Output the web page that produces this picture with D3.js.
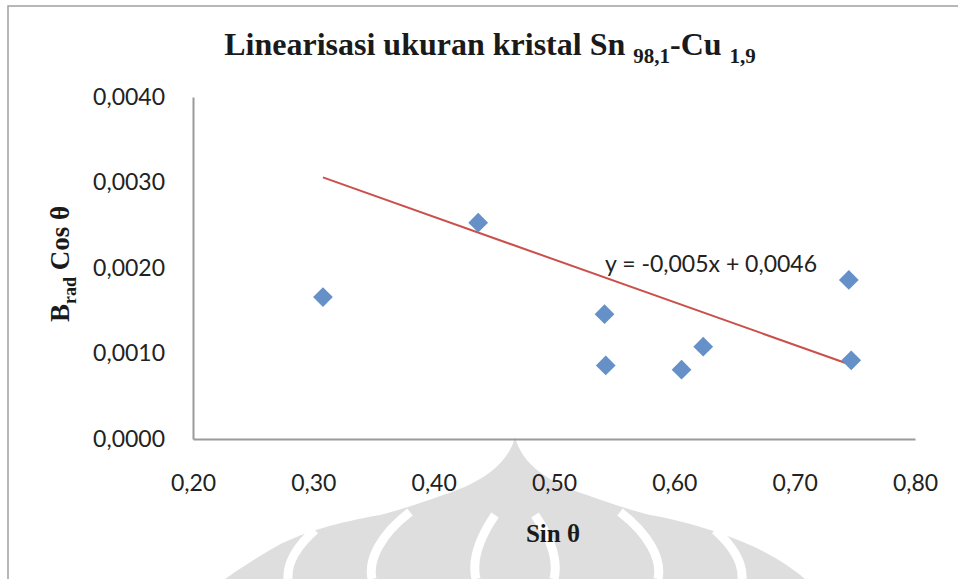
<!DOCTYPE html>
<html><head><meta charset="utf-8">
<script src="https://cdn.jsdelivr.net/npm/d3@7"></script>
<style>html,body{margin:0;padding:0;background:#fff;}</style>
</head><body>
<script>
// ---- data ----
const sinTheta = [0.308, 0.437, 0.542, 0.543, 0.606, 0.624, 0.745, 0.747];
const bCosTheta = [0.00166, 0.00253, 0.00146, 0.00086, 0.00081, 0.00108, 0.00186, 0.00092];
const xTicks = [0.2, 0.3, 0.4, 0.5, 0.6, 0.7, 0.8];
const yTicks = [0, 0.001, 0.002, 0.003, 0.004];
const trendSlope = -0.005;
const trendIntercept = 0.0046;
const equationLabel = "y = -0,005x + 0,0046";

const W = 958, H = 579;
const svg = d3.select("body").append("svg").attr("width", W).attr("height", H)
  .style("display","block");
svg.append("rect").attr("width", W).attr("height", H).attr("fill", "#fff");

// watermark (decorative, light gray)
const wm = svg.append("g").attr("fill", "#dedede");
wm.append("path").attr("d",
  "M515,437 C508,465 480,482 452,492 C420,503 400,510 380,515 C340,522 300,532 270,550 C250,562 235,572 225,579 L805,579 C795,570 775,556 750,545 C715,530 680,520 650,515 C630,510 610,503 578,492 C550,482 522,465 515,437 Z");
const wmw = svg.append("g").attr("fill", "none").attr("stroke", "#fff").attr("stroke-width", 9);
wmw.append("path").attr("d", "M410,512 C380,535 368,560 372,579");
wmw.append("path").attr("d", "M620,512 C650,535 662,560 658,579");
wmw.append("path").attr("d", "M495,515 C478,540 472,562 476,579");
wmw.append("path").attr("d", "M535,515 C552,540 558,562 554,579");
wmw.append("path").attr("d", "M315,530 C295,548 287,565 288,579");
wmw.append("path").attr("d", "M715,530 C735,548 743,565 742,579");

// frame
svg.append("rect").attr("x", 8).attr("y", 6).attr("width", 962).attr("height", 600)
  .attr("fill", "none").attr("stroke", "#a0a0a0").attr("stroke-width", 1.5);

const x = d3.scaleLinear().domain([0.2, 0.8]).range([193, 915]);
const y = d3.scaleLinear().domain([0, 0.004]).range([439, 97]);

const loc = d3.formatLocale({decimal: ",", thousands: ".", grouping: [3], currency: ["", ""]});
const fx = loc.format(".2f"), fy = loc.format(".4f");
const tickFont = "Lato, 'Open Sans', sans-serif";

// axes
const gx = svg.append("g").attr("transform", `translate(0,${y(0)})`)
  .call(d3.axisBottom(x).tickValues(xTicks).tickFormat(fx).tickSize(0).tickPadding(36));
const gy = svg.append("g").attr("transform", `translate(${x(0.2)},0)`)
  .call(d3.axisLeft(y).tickValues(yTicks).tickFormat(fy).tickSize(0).tickPadding(28));
[gx, gy].forEach(g => {
  g.select(".domain").attr("stroke", "#9a9a9a").attr("stroke-width", 2);
  g.selectAll("text").attr("font-family", tickFont).attr("font-size", 23).attr("fill", "#222");
});

// trendline
const xmin = d3.min(sinTheta), xmax = d3.max(sinTheta);
svg.append("line")
  .attr("x1", x(xmin)).attr("y1", y(trendSlope * xmin + trendIntercept))
  .attr("x2", x(xmax)).attr("y2", y(trendSlope * xmax + trendIntercept))
  .attr("stroke", "#c9504b").attr("stroke-width", 2);

// points
svg.append("g").selectAll("path").data(sinTheta).join("path")
  .attr("d", d3.symbol(d3.symbolSquare, 195))
  .attr("transform", (d, i) => `translate(${x(d)},${y(bCosTheta[i])}) rotate(45)`)
  .attr("fill", "#6590c8");

// equation
svg.append("text").attr("x", 605).attr("y", 272)
  .attr("font-family", tickFont).attr("font-size", 23).attr("fill", "#222")
  .text(equationLabel);

// title
const serif = "'Liberation Serif', 'DejaVu Serif', serif";
const t = svg.append("text").attr("x", 490).attr("y", 55).attr("text-anchor", "middle")
  .attr("font-family", serif).attr("font-weight", "bold").attr("font-size", 32).attr("fill", "#1a1a1a");
t.append("tspan").text("Linearisasi ukuran kristal Sn ");
t.append("tspan").attr("font-size", 21).attr("dy", 8).text("98,1");
t.append("tspan").attr("dy", -8).text("-Cu ");
t.append("tspan").attr("font-size", 21).attr("dy", 8).text("1,9");

// x label
svg.append("text").attr("x", 553).attr("y", 542).attr("text-anchor", "middle")
  .attr("font-family", serif).attr("font-weight", "bold").attr("font-size", 25).attr("fill", "#1a1a1a")
  .text("Sin θ");

// y label
const yl = svg.append("text").attr("transform", "translate(69,264) rotate(-90)").attr("text-anchor", "middle")
  .attr("font-family", serif).attr("font-weight", "bold").attr("font-size", 27).attr("fill", "#1a1a1a");
yl.append("tspan").text("B");
yl.append("tspan").attr("font-size", 18).attr("dy", 7).text("rad");
yl.append("tspan").attr("dy", -7).text(" Cos θ");
</script>
</body></html>
